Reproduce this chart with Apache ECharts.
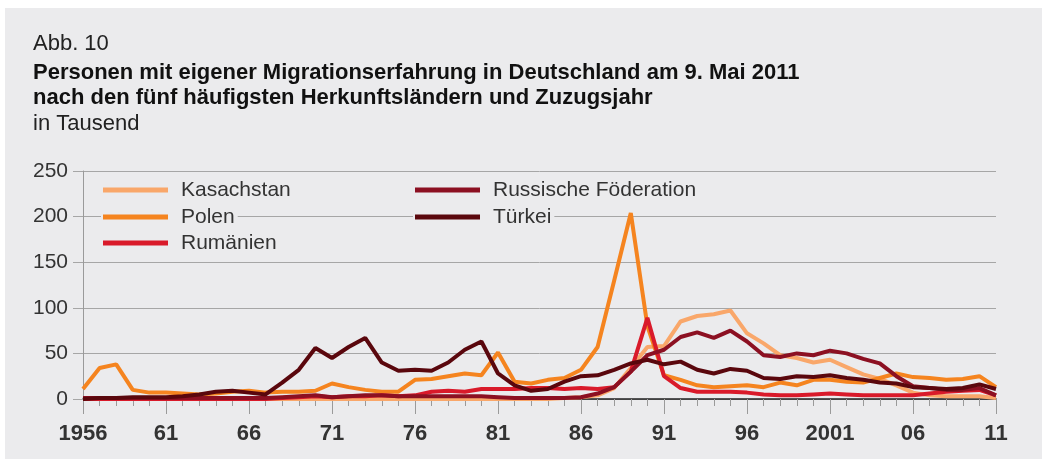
<!DOCTYPE html>
<html>
<head>
<meta charset="utf-8">
<script src="https://cdn.jsdelivr.net/npm/echarts@6/dist/echarts.min.js"></script>
<style>
    html, body { margin: 0; padding: 0; background: #ffffff; }
    #panel { position: absolute; left: 5px; top: 8px; right: 0; bottom: 0; background: #ebebed; }
    #chart { position: absolute; left: 0; top: 0; width: 1042px; height: 459px; }
</style>
</head>
<body>
<div id="panel"></div>
<div id="chart"></div>
<script>
// years 1956 .. 2011
var years = [];
for (var y = 1956; y <= 2011; y++) years.push(y);

var xTickLabels = ['1956', '61', '66', '71', '76', '81', '86', '91', '96', '2001', '06', '11'];

var seriesNames = ['Kasachstan', 'Polen', 'Rumänien', 'Russische Föderation', 'Türkei'];
var seriesColors = ['#f9a76a', '#f5841f', '#d91a2a', '#8c1022', '#5a070d'];

var kasachstan = [
    0, 0, 0, 0, 0, 0, 0, 0, 0, 0,
    0, 0, 0, 0, 0, 0, 0, 0, 0, 0,
    0, 0, 0, 0, 0, 0, 0, 0, 0, 1,
    2, 4, 12, 34, 57, 58, 85, 91, 93, 97,
    72, 61, 48, 45, 40, 43, 35, 27, 22, 15,
    7, 4, 3, 3, 3, 1
];
var polen = [
    11, 34, 38, 10, 7, 7, 6, 5, 6, 8,
    9, 7, 8, 8, 9, 17, 13, 10, 8, 8,
    21, 22, 25, 28, 26, 51, 19, 17, 21, 23,
    32, 57, 130, 204, 80, 26, 21, 15, 13, 14,
    15, 13, 18, 15, 21, 21, 19, 18, 23, 28,
    24, 23, 21, 22, 25, 13
];
var rumaenien = [
    0, 0, 0, 0, 0, 0, 0, 0, 0, 0,
    0, 0, 1, 2, 3, 2, 3, 3, 4, 3,
    4, 8, 9, 8, 11, 11, 11, 12, 12, 11,
    12, 11, 13, 30, 89, 25, 12, 8, 8, 8,
    7, 5, 4, 4, 5, 6, 5, 4, 4, 4,
    4, 6, 8, 9, 10, 4
];
var russland = [
    1, 1, 1, 1, 1, 1, 1, 1, 1, 1,
    1, 1, 2, 3, 4, 2, 3, 4, 4, 3,
    3, 3, 3, 3, 3, 2, 1, 1, 1, 1,
    2, 6, 13, 30, 48, 54, 68, 73, 67, 75,
    63, 48, 46, 50, 48, 53, 50, 44, 39, 25,
    14, 12, 10, 10, 12, 4
];
var tuerkei = [
    0, 1, 1, 2, 2, 2, 3, 5, 8, 9,
    7, 5, 18, 32, 56, 45, 57, 67, 40, 31,
    32, 31, 40, 54, 63, 28, 15, 9, 11, 19,
    25, 26, 32, 39, 43, 38, 41, 32, 28, 33,
    31, 23, 22, 25, 24, 26, 23, 21, 18, 17,
    13, 12, 11, 12, 16, 11
];
var seriesValues = [kasachstan, polen, rumaenien, russland, tuerkei];

var fontFamily = "'Liberation Sans', Arial, sans-serif";

var dom = document.getElementById('chart');
var myChart = echarts.init(dom, null, { renderer: 'canvas' });

function toPairs(values) {
    return values.map(function (v, i) { return [years[i] - years[0], v]; });
}

// legend positions: two columns, three rows
var legendPos = [
    { left: 101, top: 179 },
    { left: 101, top: 206 },
    { left: 101, top: 232 },
    { left: 413, top: 179 },
    { left: 413, top: 206 }
];

var legends = seriesNames.map(function (name, i) {
    return {
        data: [name],
        left: legendPos[i].left,
        top: legendPos[i].top,
        orient: 'horizontal',
        icon: 'rect',
        itemWidth: 65,
        itemHeight: 5,
        padding: [0, 3, 0, 2],
        backgroundColor: '#ebebed',
        selectedMode: false,
        textStyle: {
            fontFamily: fontFamily,
            fontSize: 21,
            lineHeight: 22,
            color: '#333333',
            padding: [0, 0, 0, 8]
        }
    };
});

var option = {
    animation: false,
    backgroundColor: 'transparent',
    title: [
        {
            text: 'Abb. 10',
            left: 33,
            top: 32,
            padding: 0,
            textStyle: { fontFamily: fontFamily, fontSize: 22, lineHeight: 24, fontWeight: 'normal', color: '#222222' }
        },
        {
            text: 'Personen mit eigener Migrationserfahrung in Deutschland am 9. Mai 2011\nnach den fünf häufigsten Herkunftsländern und Zuzugsjahr',
            left: 33,
            top: 60,
            padding: 0,
            textStyle: { fontFamily: fontFamily, fontSize: 22, lineHeight: 25, fontWeight: 'bold', color: '#111111' }
        },
        {
            text: 'in Tausend',
            left: 33,
            top: 112,
            padding: 0,
            textStyle: { fontFamily: fontFamily, fontSize: 22, lineHeight: 24, fontWeight: 'normal', color: '#222222' }
        }
    ],
    legend: legends,
    grid: {
        left: 83,
        right: 46,
        top: 171,
        bottom: 60,
        containLabel: false
    },
    xAxis: {
        type: 'value',
        min: 0,
        max: years.length - 1,
        interval: 5,
        axisLine: { show: true, lineStyle: { color: '#222222', width: 1.5 } },
        axisTick: { show: true, length: 15, lineStyle: { color: '#9a9a9a', width: 1 } },
        minorTick: { show: true, splitNumber: 5, length: 7, lineStyle: { color: '#9a9a9a', width: 1 } },
        splitLine: { show: false },
        axisLabel: {
            margin: 24,
            fontFamily: fontFamily,
            fontSize: 22,
            fontWeight: 'bold',
            color: '#333333',
            formatter: function (v) { return xTickLabels[Math.round(v / 5)]; }
        }
    },
    yAxis: {
        type: 'value',
        min: 0,
        max: 250,
        interval: 50,
        axisLine: { show: true, lineStyle: { color: '#9a9a9a', width: 1 } },
        axisTick: { show: true, length: 10, lineStyle: { color: '#a6a6a6', width: 1 } },
        splitLine: { show: true, lineStyle: { color: '#a6a6a6', width: 1 } },
        axisLabel: {
            margin: 15,
            fontFamily: fontFamily,
            fontSize: 21,
            color: '#333333'
        }
    },
    series: seriesNames.map(function (name, i) {
        return {
            name: name,
            type: 'line',
            data: toPairs(seriesValues[i]),
            symbol: 'none',
            color: seriesColors[i],
            lineStyle: { width: 4, color: seriesColors[i] },
            z: 2 + i
        };
    })
};

myChart.setOption(option);

window.addEventListener('resize', function () {
    myChart.resize();
});
</script>
</body>
</html>
